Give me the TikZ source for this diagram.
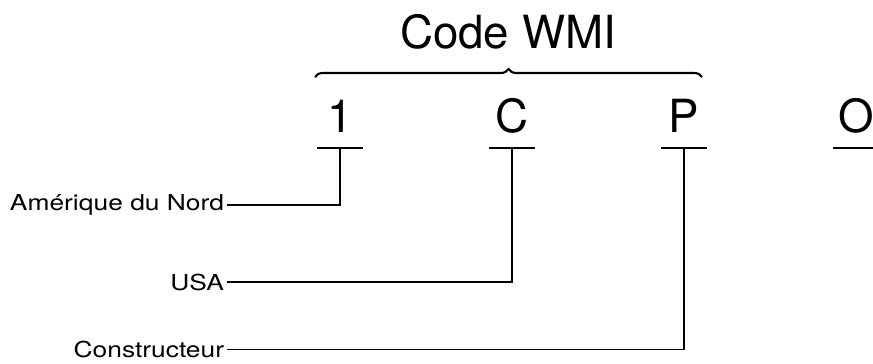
\documentclass[tikz,border=0pt]{standalone}
\usepackage{fontspec}
\setmainfont{TeX Gyre Heros}
\newfontfamily\etiqfont{TeX Gyre Heros}[FakeStretch=1.2]
\usetikzlibrary{positioning, decorations.pathreplacing}
\tikzset{
  chiffre/.style={font=\fontsize{26}{30}\selectfont, anchor=base, inner sep=0pt},
  etiquette/.style={font=\etiqfont\fontsize{12.5}{14}\selectfont, anchor=east, inner xsep=1.5pt, inner ysep=0pt},
  souligne/.style={line width=1.2pt},
  trait/.style={line width=0.9pt}
}
\begin{document}
\begin{tikzpicture}
        \useasboundingbox (0,0) rectangle (17.46,7.26);
        % Titre et accolade
        \node[chiffre] (titre) at (10.16,6.30) {Code WMI};
        \draw[souligne, decorate, decoration={brace, amplitude=0.16cm}] (6.30,5.72) -- (14.04,5.72);
        % Caractères du code
        \node[chiffre] (c1) at (6.80,4.62) {1};
        \node[chiffre] (c2) at (10.24,4.62) {C};
        \node[chiffre] (c3) at (13.68,4.62) {P};
        \node[chiffre] (c4) at (17.12,4.62) {O};
        % Soulignés
        \coordinate (u1) at (6.80,4.30);
        \coordinate (u2) at (10.24,4.30);
        \coordinate (u3) at (13.68,4.30);
        \coordinate (u4) at (17.12,4.30);
        \foreach \u in {u1,u2,u3,u4}
            \draw[souligne] ([xshift=-0.46cm]\u) -- ([xshift=0.46cm]\u);
        % Étiquettes
        \node[etiquette] (nord) at (4.54,3.16) {Amérique du Nord};
        \node[etiquette] (usa) at (4.54,1.62) {USA};
        \node[etiquette] (constr) at (4.54,0.27) {Constructeur};
        % Liaisons
        \draw[trait] (u1) |- (nord.east);
        \draw[trait] (u2) |- (usa.east);
        \draw[trait] (u3) |- (constr.east);
    \end{tikzpicture}
\end{document}
